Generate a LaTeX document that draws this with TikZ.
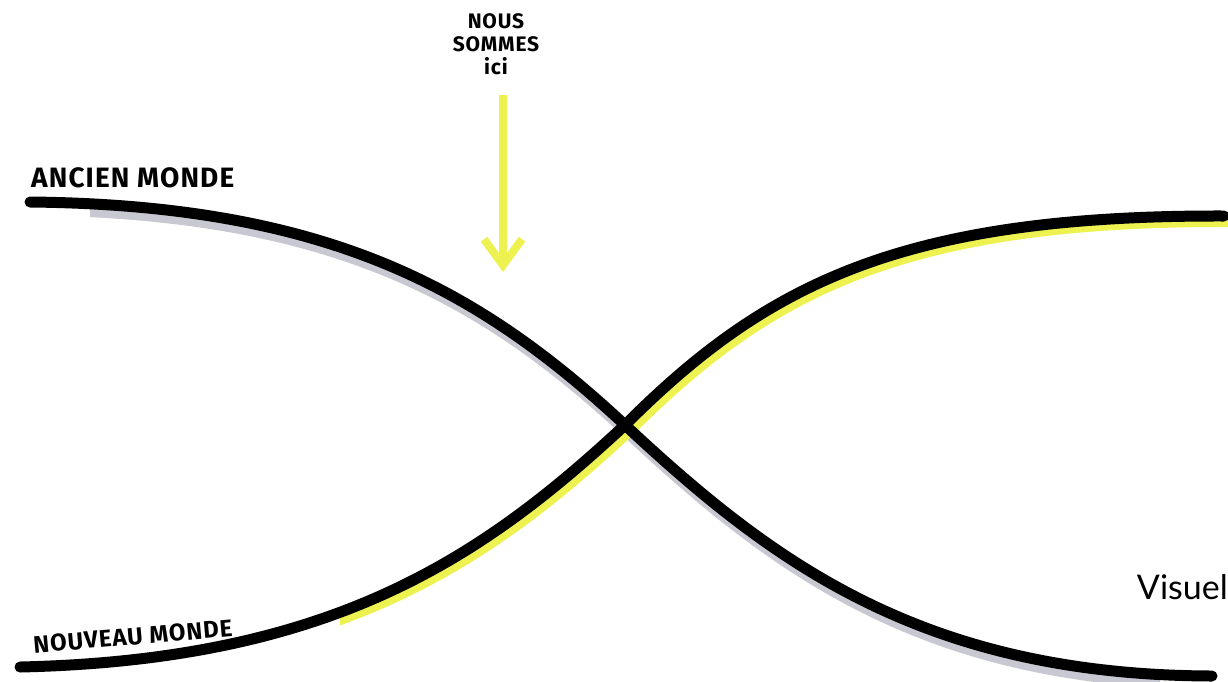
\documentclass[tikz,border=0pt]{standalone}
\usepackage{fontspec}
\setmainfont{Fira Sans}
\newfontfamily\hand[LetterSpace=4]{Fira Sans}
\newfontfamily\visu{Lato}
\usetikzlibrary{arrows.meta}
\definecolor{hiyellow}{RGB}{238,242,80}
\definecolor{shadowgrey}{RGB}{200,200,210}
\tikzset{
  curve/.style={line width=11pt, line cap=round, black},
  greyshadow/.style={line width=11pt, line cap=round, shadowgrey},
  yellowshadow/.style={line width=10pt, line cap=round, hiyellow},
  handlabel/.style={text=black, inner sep=0pt},
}
\newcommand{\oldpath}{(30,202) .. controls (330,205) and (480,290) .. (625,425)
             .. controls (770,560) and (920,675) .. (1212,676)}
\newcommand{\newpath}{(20,667) .. controls (330,660) and (480,560) .. (625,425)
             .. controls (765,285) and (900,215) .. (1224,216)}
\begin{document}
\begin{tikzpicture}[x=1pt,y=-1pt]
\useasboundingbox (0,0) rectangle (1228,681);
\fill[white] (0,0) rectangle (1228,681);
% shadows
\begin{scope}
\clip (90,0) rectangle (1160,681);
\draw[greyshadow, shift={(3,8)}] \oldpath;
\end{scope}
\begin{scope}
\clip (340,0) rectangle (1228,681);
\draw[yellowshadow, shift={(5,6)}] \newpath;
\end{scope}
% main curves
\draw[curve] \oldpath;
\draw[curve] \newpath;
% labels
\node[handlabel, font=\hand\bfseries\fontsize{28}{30}\selectfont, anchor=south west] (ancien) at (31,188) {ANCIEN MONDE};
\node[handlabel, font=\hand\bfseries\fontsize{24}{26}\selectfont, anchor=south west, rotate=5] (nouveau) at (34,654) {NOUVEAU MONDE};
\node[handlabel, font=\hand\bfseries\fontsize{21}{23}\selectfont, align=center, anchor=north] (ici) at (496,13) {NOUS\\SOMMES\\ici};
\node[font=\visu\fontsize{34}{36}\selectfont, anchor=east, inner sep=0pt] (visuel) at (1228,587) {Visuel};
% arrow
\coordinate (arrowstart) at (503,95);
\coordinate (arrowend) at (503,272);
\draw[hiyellow, line width=8pt, -{Straight Barb[length=26pt,width=38pt,line width=8pt]}] (arrowstart) -- (arrowend);
\end{tikzpicture}
\end{document}
